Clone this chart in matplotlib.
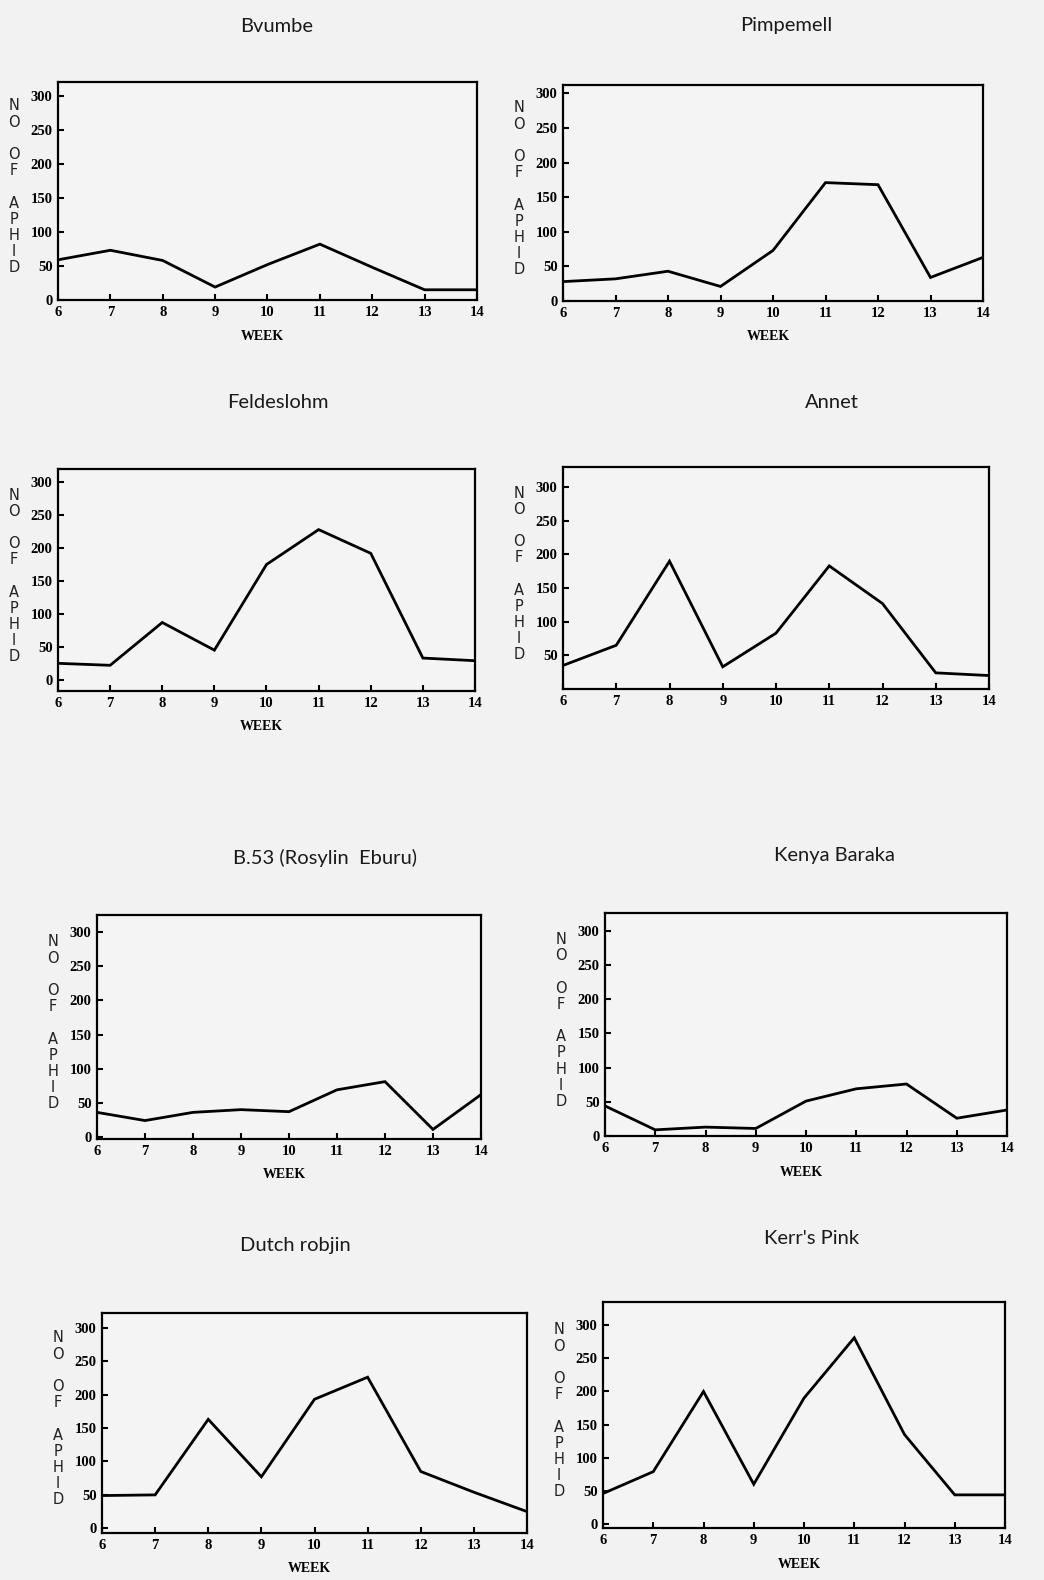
import matplotlib
matplotlib.use("Agg")
import matplotlib.pyplot as plt

W, H = 1044, 1580

weeks = [6, 7, 8, 9, 10, 11, 12, 13, 14]
titles = ["Bvumbe", "Pimpemell", "Feldeslohm", "Annet",
          "B.53 (Rosylin  Eburu)", "Kenya Baraka", "Dutch robjin", "Kerr's Pink"]

bvumbe = [59, 73, 58, 19, 52, 82, 48, 15, 15]
pimpernell = [28, 32, 43, 21, 73, 171, 168, 34, 63]
feldeslohm = [25, 22, 87, 45, 175, 228, 192, 33, 29]
annet = [35, 65, 190, 33, 83, 183, 127, 24, 20]
b53 = [36, 24, 36, 40, 37, 69, 81, 11, 62]
kenya_baraka = [44, 9, 13, 11, 51, 69, 76, 26, 38]
dutch_robjin = [49, 50, 163, 77, 193, 226, 85, 54, 25]
kerrs_pink = [46, 79, 200, 60, 190, 281, 135, 44, 44]

series = [bvumbe, pimpernell, feldeslohm, annet, b53, kenya_baraka, dutch_robjin, kerrs_pink]
yticks_all = [0, 50, 100, 150, 200, 250, 300]

# layout (pixel boxes: left, top, right, bottom), y-limits, title position
boxes = [(58, 82, 477, 300), (563, 85, 983, 301),
         (58, 469, 475, 691), (563, 467, 989, 689),
         (97, 915, 481, 1139), (605, 913, 1007, 1136),
         (102, 1313, 527, 1533), (603, 1302, 1005, 1528)]
ylims = [(0, 320), (0, 312), (-17, 320), (0, 330),
         (-3, 325), (0, 326), (-7, 322), (-6, 335)]
title_pos = [(277, 27), (786, 25), (278, 403), (832, 403),
             (325, 858), (834, 856), (295, 1246), (812, 1239)]

fig = plt.figure(figsize=(W / 100, H / 100), dpi=100)
fig.patch.set_facecolor("#f2f2f2")

tickfont = dict(family="Liberation Serif", weight="bold", size=10.5)

for i, (ys, box) in enumerate(zip(series, boxes)):
    l, t, r, b = box
    ax = fig.add_axes([l / W, 1 - b / H, (r - l) / W, (b - t) / H])
    ax.set_facecolor("#f4f4f4")
    ax.plot(weeks, ys, color="black", lw=2.0, solid_joinstyle="miter")
    ax.set_xlim(6, 14)
    ax.set_ylim(*ylims[i])
    ax.set_xticks(weeks)
    yt = yticks_all if i != 3 else yticks_all[1:]
    ax.set_yticks(yt)
    ax.set_xticklabels([str(w) for w in weeks], fontdict=tickfont)
    ax.set_yticklabels([str(v) for v in yt], fontdict=tickfont)
    ax.tick_params(direction="in", length=4, width=1.5, colors="black", pad=4)
    for s in ax.spines.values():
        s.set_linewidth(1.6)
        s.set_color("black")
    # stacked y-axis label
    cy = (t + b) / 2 - 4
    lx = l - 44
    fig.text(lx / W, 1 - cy / H, "N\nO\n\nO\nF\n\nA\nP\nH\nI\nD",
             ha="center", va="center", fontsize=10.5, family="DejaVu Sans",
             linespacing=1.1, color="#222222")
    if i != 3:
        fig.text(((l + r) / 2 - 5) / W, 1 - (b + 36) / H, "WEEK", ha="center",
                 va="center", fontsize=10, family="Liberation Serif", weight="bold")
    tx, ty = title_pos[i]
    fig.text(tx / W, 1 - ty / H, titles[i], ha="center", va="center",
             fontsize=14.5, family="Lato", color="#1a1a1a")

fig.savefig("out.png", dpi=100, facecolor=fig.get_facecolor())
